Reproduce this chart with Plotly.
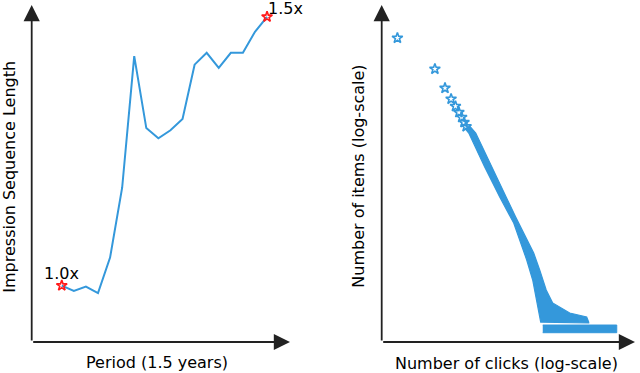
"""Two-panel sketch: impression sequence growth and click long-tail."""

import plotly.graph_objects as go

# ---------------------------------------------------------------------------
# Data
# ---------------------------------------------------------------------------

# Left panel: relative impression sequence length per period step
PERIOD = [0, 1, 2, 3, 4, 5, 6, 7, 8, 9, 10, 11, 12, 13, 14, 15, 16, 17]
SEQ_LEN = [1.000, 0.990, 0.998, 0.986, 1.052, 1.182, 1.427, 1.293, 1.274,
           1.289, 1.310, 1.411, 1.433, 1.405, 1.433, 1.433, 1.472, 1.500]
MARK_LABELS = ["1.0x", "1.5x"]

# Right panel: sparse head of the click distribution
CLICKS_HEAD = [1, 11, 21, 31, 41, 51, 61, 71, 81]
ITEMS_HEAD = [1.21e8, 1.67e7, 4.9e6, 2.45e6, 1.54e6, 1.04e6, 7.6e5, 5.5e5, 4.2e5]

# Dense body of the distribution (outline of the overlapping points)
BAND_CLICKS = [74, 96, 266, 695, 1702, 3908, 5730, 7170, 9570,
               206000, 206000, 181000, 61100, 20600, 13600, 8970, 6110,
               1932, 1087, 416, 150, 102]
BAND_ITEMS = [3.83e5, 2.78e5, 31600, 4640, 880, 82.6, 23, 7.7, 1.56,
              1.47, 1.56, 2.15, 2.78, 5.3, 12.1, 43.5, 129,
              1290, 4350, 31600, 2.78e5, 4.35e5]

# Tail: items with a single occurrence
TAIL_CLICKS = [10900, 1.24e6, 1.24e6, 10900]
TAIL_ITEMS = [1.29, 1.29, 0.789, 0.789]

BLUE = "#3498db"
RED = "#ff1a1a"
AXIS_COLOR = "#222222"
FONT = "DejaVu Sans"

fig = go.Figure()

# ---- Left: sequence length line ----
fig.add_trace(go.Scatter(
    x=PERIOD, y=SEQ_LEN,
    mode="lines",
    line=dict(color=BLUE, width=2),
    hoverinfo="skip",
    xaxis="x", yaxis="y",
))
fig.add_trace(go.Scatter(
    x=[PERIOD[0], PERIOD[-1]], y=[SEQ_LEN[0], SEQ_LEN[-1]],
    mode="markers",
    marker=dict(symbol="star-open", size=8, color=RED,
                line=dict(color=RED, width=1.6)),
    hoverinfo="skip",
    xaxis="x", yaxis="y",
))

# ---- Right: click distribution ----
fig.add_trace(go.Scatter(
    x=BAND_CLICKS, y=BAND_ITEMS,
    mode="lines", fill="toself",
    fillcolor=BLUE, line=dict(color=BLUE, width=1.2),
    hoverinfo="skip",
    xaxis="x2", yaxis="y2",
))
fig.add_trace(go.Scatter(
    x=TAIL_CLICKS, y=TAIL_ITEMS,
    mode="lines", fill="toself",
    fillcolor=BLUE, line=dict(color=BLUE, width=1),
    hoverinfo="skip",
    xaxis="x2", yaxis="y2",
))
fig.add_trace(go.Scatter(
    x=CLICKS_HEAD, y=ITEMS_HEAD,
    mode="markers",
    marker=dict(symbol="star-open", size=8, color=BLUE,
                line=dict(color=BLUE, width=1.6)),
    hoverinfo="skip",
    xaxis="x2", yaxis="y2",
))

# ---- Arrow axes ----
for xa, ya in [("x", "y"), ("x2", "y2")]:
    for (hx, hy) in [(1, 0), (0, 1)]:
        fig.add_annotation(
            x=hx, y=hy, ax=0, ay=0,
            xref=f"{xa} domain", yref=f"{ya} domain",
            axref=f"{xa} domain", ayref=f"{ya} domain",
            text="", showarrow=True,
            arrowhead=2, arrowsize=1.8, arrowwidth=1.8,
            arrowcolor=AXIS_COLOR,
        )

# ---- Point labels ----
fig.add_annotation(
    x=PERIOD[0], y=SEQ_LEN[0], xref="x", yref="y",
    text=MARK_LABELS[0], showarrow=False,
    xanchor="center", yanchor="bottom", yshift=1,
    font=dict(family=FONT, size=16, color="black"),
)
fig.add_annotation(
    x=PERIOD[-1], y=SEQ_LEN[-1], xref="x", yref="y",
    text=MARK_LABELS[1], showarrow=False,
    xanchor="left", yanchor="bottom", xshift=-1, yshift=-3,
    font=dict(family=FONT, size=16, color="black"),
)

# ---- Axis titles ----
titles = [
    ("Impression Sequence Length", 10 / 640, 1 - 176.7 / 373, -90),
    ("Period (1.5 years)", 157 / 640, 1 - 362.5 / 373, 0),
    ("Number of items (log-scale)", 359 / 640, 1 - 176.7 / 373, -90),
    ("Number of clicks (log-scale)", 506 / 640, 1 - 363 / 373, 0),
]
for text, px, py, ang in titles:
    fig.add_annotation(
        x=px, y=py, xref="paper", yref="paper",
        text=text, showarrow=False, textangle=ang,
        xanchor="center", yanchor="middle",
        font=dict(family=FONT, size=16, color="black"),
    )

fig.update_layout(
    width=640, height=373,
    margin=dict(l=0, r=0, t=0, b=0),
    plot_bgcolor="white",
    paper_bgcolor="white",
    showlegend=False,
    xaxis=dict(visible=False, domain=[31.7 / 640, 290 / 640],
               range=[-2.49, 18.9]),
    yaxis=dict(visible=False, domain=[31 / 373, 368 / 373],
               range=[0.895, 1.522]),
    xaxis2=dict(visible=False, type="log", domain=[381.7 / 640, 635 / 640],
                range=[-0.436, 6.600], anchor="y2"),
    yaxis2=dict(visible=False, type="log", domain=[31 / 373, 368 / 373],
                range=[-0.361, 9.0], anchor="x2"),
)

fig.write_html(
    "out.html",
    config={"displayModeBar": False},
    post_script="document.body.style.margin='0';document.body.style.overflow='hidden';",
)
